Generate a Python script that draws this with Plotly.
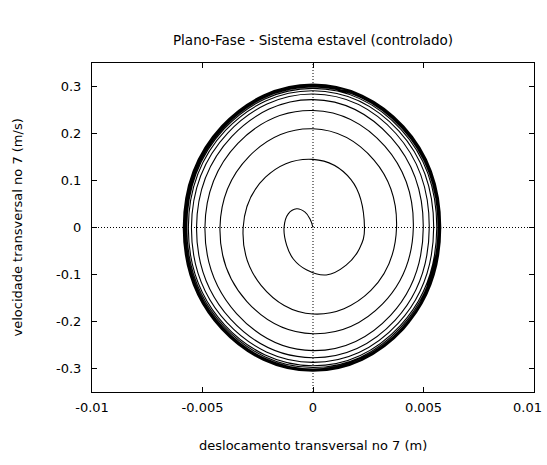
import plotly.graph_objects as go

# Trajectory (displacement in m, velocity in m/s)
disp = [
    0.0, -0.00014, -0.00036, -0.00074, -0.00112, -0.00131, -0.00119, -0.00089, -0.00030,
    0.00060, 0.00150, 0.00210, 0.00233,
    0.00172, 0.0, -0.00215, -0.00316, -0.00235, 0.0, 0.00262, 0.00378,
    0.00276, 0.0, -0.00290, -0.00421, -0.00300, 0.0, 0.00315, 0.00454,
    0.00325, 0.0, -0.00340, -0.00489, -0.00346, 0.0, 0.00351, 0.00499,
    0.00354, 0.0, -0.00368, -0.00527, -0.00373, 0.0, 0.00372, 0.00526,
    0.00375, 0.0, -0.00385, -0.00550, -0.00389, 0.0, 0.00386, 0.00546,
    0.00389, 0.0, -0.00396, -0.00564, -0.00399, 0.0, 0.00396, 0.00560,
    0.00398, 0.0, -0.00402, -0.00571, -0.00403, 0.0, 0.00400, 0.00566,
    0.00402, 0.0, -0.00406, -0.00576, -0.00407, 0.0, 0.00404, 0.00570,
    0.00405, 0.0, -0.00409, -0.00580, -0.00410, 0.0, 0.00406, 0.00573,
    0.00407, 0.0, -0.00411, -0.00583, -0.00412, 0.0, 0.00408, 0.00576,
    0.00409, 0.0, -0.00413, -0.00585, -0.00414, 0.0, 0.00410, 0.00578,
    0.00411, 0.0, -0.00414, -0.00587, -0.00415, 0.0, 0.00411, 0.00579,
]
veloc = [
    0.0, 0.0185, 0.0326, 0.0398, 0.0290, 0.0, -0.038, -0.067, -0.090,
    -0.101, -0.080, -0.045, 0.0,
    0.102, 0.145, 0.107, 0.0, -0.123, -0.184, -0.134, 0.0,
    0.1435, 0.210, 0.151, 0.0, -0.157, -0.226, -0.1625, 0.0,
    0.173, 0.249, 0.179, 0.0, -0.183, -0.262, -0.187, 0.0,
    0.191, 0.272, 0.1935, 0.0, -0.195, -0.277, -0.197, 0.0,
    0.200, 0.284, 0.2015, 0.0, -0.2025, -0.287, -0.2035, 0.0,
    0.205, 0.291, 0.2065, 0.0, -0.2075, -0.294, -0.208, 0.0,
    0.209, 0.296, 0.2096, 0.0, -0.2103, -0.298, -0.2108, 0.0,
    0.2112, 0.299, 0.2116, 0.0, -0.2125, -0.301, -0.2128, 0.0,
    0.2128, 0.301, 0.2132, 0.0, -0.2138, -0.303, -0.2142, 0.0,
    0.2142, 0.303, 0.2145, 0.0, -0.2148, -0.304, -0.2149, 0.0,
    0.2149, 0.304, 0.2153, 0.0, -0.2156, -0.305, -0.2157, 0.0,
    0.2157, 0.305, 0.2160, 0.0, -0.2163, -0.306, -0.2164, 0.0,
]

x_ticks = [-0.01, -0.005, 0, 0.005, 0.01]
x_ticklabels = ["-0.01", "-0.005", "0", "0.005", "0.01"]
y_ticks = [-0.3, -0.2, -0.1, 0, 0.1, 0.2, 0.3]
y_ticklabels = ["-0.3", "-0.2", "-0.1", "0", "0.1", "0.2", "0.3"]

FONT = "DejaVu Sans, sans-serif"
FS = 13

fig = go.Figure()
# dotted axes through origin
fig.add_trace(go.Scatter(x=[x_ticks[0], x_ticks[-1]], y=[0, 0], mode="lines",
                         line=dict(color="black", width=1, dash="1px,2px"),
                         hoverinfo="skip", showlegend=False))
fig.add_trace(go.Scatter(x=[0, 0], y=[-0.35, 0.35], mode="lines",
                         line=dict(color="black", width=1, dash="1px,2px"),
                         hoverinfo="skip", showlegend=False))
fig.add_trace(go.Scatter(x=disp, y=veloc, mode="lines",
                         line=dict(color="black", width=1.1, shape="spline", smoothing=1.15),
                         showlegend=False))

axis_common = dict(showgrid=False, zeroline=False, showline=True, linecolor="black",
                   linewidth=1, mirror="ticks", ticks="inside", ticklen=5,
                   tickcolor="black", tickwidth=1, automargin=False,
                   tickfont=dict(family=FONT, size=FS, color="black"))

# last x label is drawn separately (nudged left to stay inside the page, as in the reference)
fig.update_xaxes(range=[-0.01, 0.01], tickvals=x_ticks,
                 ticktext=x_ticklabels[:-1] + [""],
                 ticklabelstandoff=3, **axis_common)
fig.update_yaxes(range=[-0.35, 0.35], tickvals=y_ticks, ticktext=y_ticklabels,
                 ticklabelstandoff=7, **axis_common)

fig.update_layout(
    width=547, height=465,
    margin=dict(l=92, r=13, t=63, b=73, autoexpand=False),
    paper_bgcolor="white", plot_bgcolor="white",
    font=dict(family=FONT, size=FS, color="black"),
    title=dict(text="Plano-Fase - Sistema estavel (controlado)", x=0.5, xref="paper",
               y=1 - 40 / 465, yref="container", yanchor="middle", xanchor="center",
               font=dict(family=FONT, size=13.5, color="black")),
    annotations=[
        dict(text=x_ticklabels[-1], xref="x", yref="paper",
             x=x_ticks[-1], y=0, xshift=-7, yshift=-15, showarrow=False,
             xanchor="center", yanchor="middle",
             font=dict(family=FONT, size=FS, color="black")),
        dict(text="deslocamento transversal no 7 (m)", xref="paper", yref="paper",
             x=0.5, y=0, yshift=-53, showarrow=False, xanchor="center", yanchor="middle",
             font=dict(family=FONT, size=FS, color="black")),
        dict(text="velocidade transversal no 7 (m/s)", xref="paper", yref="paper",
             x=0, y=0.5, xshift=-75, showarrow=False, textangle=-90,
             xanchor="center", yanchor="middle",
             font=dict(family=FONT, size=FS, color="black")),
    ],
)

fig.write_html("out.html")
